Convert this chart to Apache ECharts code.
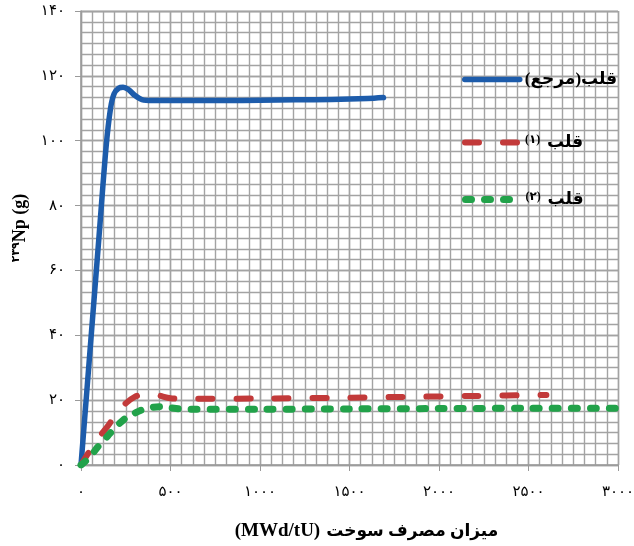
<!DOCTYPE html>
<html>
<head>
<meta charset="utf-8">
<script src="https://cdn.jsdelivr.net/npm/echarts@6/dist/echarts.min.js"></script>
<style>
html,body{margin:0;padding:0;background:#fff;}
#chart{width:634px;height:546px;}
</style>
</head>
<body>
<div id="chart"></div>
<script>
// Burnup (MWd/tU) vs. 239Np mass (g) for three cores
const seriesNames = ['قلب(مرجع)', 'قلب (۱)', 'قلب (۲)'];

const refCore = [
  [0, 0], [50, 35], [100, 70], [140, 98], [165, 110], [185, 114.5], [210, 116.2],
  [235, 116.5], [265, 115.8], [300, 114], [340, 112.7], [400, 112.4], [600, 112.4],
  [800, 112.4], [1000, 112.5], [1200, 112.6], [1400, 112.7], [1600, 113], [1690, 113.3]
];
const core1 = [
  [0, 0], [50, 4.5], [100, 8.5], [150, 12], [200, 16], [250, 19], [300, 21],
  [350, 21.8], [420, 21.6], [500, 20.6], [600, 20.4], [1000, 20.5], [1400, 20.7],
  [1800, 21], [2200, 21.3], [2600, 21.6]
];
const core2 = [
  [0, 0], [50, 2.5], [100, 6], [150, 9], [200, 12], [250, 14.5], [300, 16],
  [350, 17.2], [400, 17.8], [450, 18], [500, 17.6], [600, 17.2], [1000, 17.2],
  [1500, 17.3], [2000, 17.4], [2500, 17.5], [3000, 17.5]
];

const xTicks = [0, 500, 1000, 1500, 2000, 2500, 3000];
const yTicks = [0, 20, 40, 60, 80, 100, 120, 140];

const faDigits = '۰۱۲۳۴۵۶۷۸۹';
const toFa = v => String(v).replace(/\d/g, d => faDigits[d]);

const FONT = "'Liberation Serif', 'DejaVu Sans', serif";
const gridColor = '#a3a3a3';
const xMax = xTicks[xTicks.length - 1];
const yMax = yTicks[yTicks.length - 1];

const styles = [
  { color: '#1d5cab', width: 5.5, type: 'solid' },
  { color: '#c23a3a', width: 6, type: [14, 24] },
  { color: '#22a24a', width: 7, type: [6, 13] }
];

const legendRich = {
  b: { fontFamily: FONT, fontWeight: 'bold', fontSize: 17, color: '#000' },
  s: { fontFamily: FONT, fontWeight: 'bold', fontSize: 12, color: '#000', verticalAlign: 'top' }
};

// one legend block per series so each row sits at its own height
const legendTops = [66, 129, 186];
const legends = seriesNames.map((name, i) => ({
  orient: 'vertical',
  left: 457, top: legendTops[i],
  itemWidth: 55, itemHeight: 14, itemGap: 4,
  data: [{
    name,
    itemStyle: { opacity: 0 },
    lineStyle: { color: styles[i].color, width: styles[i].width, type: styles[i].type, cap: 'round', opacity: 1 }
  }],
  formatter: n => {
    if (i === 0) return '{b|' + n + '}';
    return '{s|' + (i === 1 ? '(۱)' : '(۲)') + '}  {b|قلب}';
  },
  textStyle: { rich: legendRich }
}));

// fine paper grid: extra unlabeled axes that only draw split lines
const paperAxis = (max, step, position) => ({
  type: 'value', min: 0, max, interval: step, position, offset: 0,
  axisLine: { show: false }, axisTick: { show: false }, axisLabel: { show: false },
  splitLine: { show: true, lineStyle: { color: gridColor, width: 1.4 } }
});

const chart = echarts.init(document.getElementById('chart'));
chart.setOption({
  animation: false,
  grid: { left: 81, right: 16, top: 11, bottom: 81, containLabel: false, outerBoundsMode: 'none' },
  xAxis: [
    {
      type: 'value', position: 'bottom',
      min: xTicks[0], max: xMax, interval: 500,
      name: '{l|(MWd/tU)}{p|میزان مصرف سوخت}',
      nameLocation: 'middle', nameGap: 57,
      nameTextStyle: {
        padding: [0, 0, 0, 34],
        rich: {
          l: { fontFamily: FONT, fontWeight: 'bold', fontSize: 19, color: '#000', padding: [0, 6, 0, 0] },
          p: { fontFamily: FONT, fontWeight: 'bold', fontSize: 17, color: '#000' }
        }
      },
      axisLine: { lineStyle: { color: '#9a9a9a', width: 1.5 } },
      axisTick: { show: true, length: 6, lineStyle: { color: '#9a9a9a' } },
      axisLabel: { formatter: v => toFa(v), fontFamily: FONT, fontSize: 15, color: '#000', margin: 20 },
      splitLine: { lineStyle: { color: gridColor, width: 1.4 } },
      z: 3
    },
    paperAxis(xMax, 500 / 8, 'bottom')
  ],
  yAxis: [
    {
      type: 'value', position: 'left',
      min: yTicks[0], max: yMax, interval: 20,
      name: '{s|۲۳۹}{b|Np (g)}',
      nameLocation: 'middle', nameGap: 52, nameRotate: 90,
      nameTextStyle: {
        padding: [0, 0, 0, 20],
        rich: {
          s: { fontFamily: FONT, fontWeight: 'bold', fontSize: 11, color: '#000', verticalAlign: 'top' },
          b: { fontFamily: FONT, fontWeight: 'bold', fontSize: 18, color: '#000' }
        }
      },
      axisLine: { show: true, lineStyle: { color: '#9a9a9a', width: 1.5 } },
      axisTick: { show: true, length: 6, lineStyle: { color: '#9a9a9a' } },
      axisLabel: { formatter: v => toFa(v), fontFamily: FONT, fontSize: 15, color: '#000', margin: 16 },
      splitLine: { lineStyle: { color: gridColor, width: 1.4 } },
      z: 3
    },
    paperAxis(yMax, 20 / 6, 'left')
  ],
  legend: legends,
  series: [refCore, core1, core2].map((data, i) => ({
    name: seriesNames[i], type: 'line', data, showSymbol: false, symbol: 'none',
    xAxisIndex: 0, yAxisIndex: 0,
    smooth: 0.3, itemStyle: { color: styles[i].color },
    lineStyle: { color: styles[i].color, width: styles[i].width, type: styles[i].type, cap: 'round', join: 'round' }
  }))
});
</script>
</body>
</html>
